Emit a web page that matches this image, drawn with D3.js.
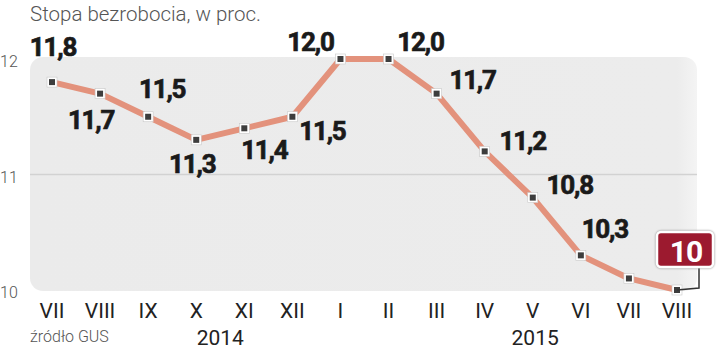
<!DOCTYPE html>
<html>
<head>
	<meta charset="utf-8">
	<title>Stopa bezrobocia</title>
	<script src="https://cdn.jsdelivr.net/npm/d3@7"></script>
</head>
<style type="text/css">
	body { margin: 0; background: #fff; }
	text { font-family: Roboto, "Liberation Sans", sans-serif; }
</style>
<body>
</body>
</html>
<script type="text/javascript">
	var width = 720;
	var height = 351;

	// data
	var months = ["VII", "VIII", "IX", "X", "XI", "XII", "I", "II", "III", "IV", "V", "VI", "VII", "VIII"];
	var rates = [11.8, 11.7, 11.5, 11.3, 11.4, 11.5, 12.0, 12.0, 11.7, 11.2, 10.8, 10.3, 10.1, 10.0];
	var valueLabels = ["11,8", "11,7", "11,5", "11,3", "11,4", "11,5", "12,0", "12,0", "11,7", "11,2", "10,8", "10,3", "", "10"];
	var yTicks = [10, 11, 12];
	var years = ["2014", "2015"];
	var yearAt = [3.5, 10.05]; // index position of the year caption

	// where each value label sits relative to its point [dx, dy]
	var labelOffsets = [[1, -26], [-9, 35], [14, -19], [-4, 33], [20, 31], [30, 23], [-30, -8], [32, -8], [36, -5], [38, -1], [37, -4], [24, -17], null, null];

	var svg = d3.select("body").append("svg").attr("width", width).attr("height", height);

	var x = d3.scaleLinear().domain([0, months.length - 1]).range([52, 677]);
	var y = d3.scaleLinear().domain([10, 12]).range([290, 59]);

	// plot background
	var grad = svg.append("defs").append("linearGradient").attr("id", "bg")
		.attr("x1", "0").attr("x2", "1").attr("y1", "0").attr("y2", "0");
	grad.append("stop").attr("offset", "0").attr("stop-color", "#ebebeb");
	grad.append("stop").attr("offset", "0.97").attr("stop-color", "#ececec");
	grad.append("stop").attr("offset", "1").attr("stop-color", "#f4f4f4");

	svg.append("rect")
		.attr("x", 30).attr("y", y(12) - 2)
		.attr("width", 667).attr("height", y(10) - y(12) + 3)
		.attr("rx", 13)
		.attr("fill", "url(#bg)");

	// grid line at 11
	svg.append("line")
		.attr("x1", 30).attr("x2", 697)
		.attr("y1", y(11)).attr("y2", y(11))
		.attr("stroke", "#d2d2d2").attr("stroke-width", 1.5);

	// y ticks
	svg.selectAll(".ytick").data(yTicks).enter().append("text")
		.attr("class", "ytick")
		.attr("x", 0).attr("y", function(d){ return y(d) + 8; })
		.attr("font-size", 16).attr("font-weight", 300)
		.attr("fill", "#555")
		.text(function(d){ return d; });

	// title
	svg.append("text")
		.attr("x", 30).attr("y", 21)
		.attr("font-size", 20.5).attr("font-weight", 300)
		.attr("fill", "#555")
		.text("Stopa bezrobocia, w proc.");

	// line
	var line = d3.line()
		.x(function(d, i){ return x(i); })
		.y(function(d){ return y(d); });

	svg.append("path")
		.datum(rates)
		.attr("d", line)
		.attr("fill", "none")
		.attr("stroke", "#e3927c")
		.attr("stroke-width", 6)
		.attr("stroke-linejoin", "round");

	// markers
	var mk = svg.selectAll(".mk").data(rates).enter().append("g")
		.attr("class", "mk")
		.attr("transform", function(d, i){ return "translate(" + x(i) + "," + y(d) + ")"; });
	mk.append("rect")
		.attr("x", -5).attr("y", -5).attr("width", 10).attr("height", 10)
		.attr("fill", "#fff").attr("stroke", "#c8c8c8").attr("stroke-width", 0.6);
	mk.append("rect")
		.attr("x", -3).attr("y", -3).attr("width", 6).attr("height", 6)
		.attr("fill", "#3d3d3d");

	// value labels
	svg.selectAll(".vl").data(rates).enter().filter(function(d, i){ return labelOffsets[i]; })
		.append("text")
		.attr("class", "vl")
		.attr("x", function(d, i){ return x(i) + labelOffsets[i][0]; })
		.attr("y", function(d, i){ return y(d) + labelOffsets[i][1]; })
		.attr("text-anchor", "middle")
		.attr("font-size", 26).attr("font-weight", 700)
		.attr("fill", "#1a1a1a")
		.attr("stroke", "#1a1a1a").attr("stroke-width", 0.7)
		.attr("letter-spacing", -1.2)
		.text(function(d, i){ return valueLabels[i]; });

	// highlighted last value
	var last = rates.length - 1;
	var lx = x(last), ly = y(rates[last]);
	svg.append("path")
		.attr("d", "M" + lx + "," + ly + "L" + (lx + 22) + "," + (ly - 2) + "V" + (ly - 24))
		.attr("fill", "none").attr("stroke", "#333").attr("stroke-width", 1.5);
	svg.append("rect")
		.attr("x", lx - 20).attr("y", ly - 58).attr("width", 56).attr("height", 35)
		.attr("rx", 4)
		.attr("fill", "#9c1a2f")
		.attr("stroke", "#fff").attr("stroke-width", 2.5)
		.style("filter", "drop-shadow(0 0 1px #888)");
	svg.append("text")
		.attr("x", lx + 9).attr("y", ly - 28)
		.attr("text-anchor", "middle")
		.attr("font-size", 30).attr("font-weight", 700)
		.attr("letter-spacing", -1)
		.attr("fill", "#fff")
		.text(valueLabels[last]);

	// month labels
	svg.selectAll(".month").data(months).enter().append("text")
		.attr("class", "month")
		.attr("x", function(d, i){ return x(i); })
		.attr("y", 318)
		.attr("text-anchor", "middle")
		.attr("font-size", 21)
		.attr("fill", "#222")
		.text(function(d){ return d; });

	// years
	svg.selectAll(".year").data(years).enter().append("text")
		.attr("class", "year")
		.attr("x", function(d, i){ return x(yearAt[i]); })
		.attr("y", 345)
		.attr("text-anchor", "middle")
		.attr("font-size", 21)
		.attr("fill", "#222")
		.text(function(d){ return d; });

	// source
	svg.append("text")
		.attr("x", 30).attr("y", 342)
		.attr("font-size", 16).attr("font-weight", 300)
		.attr("fill", "#555")
		.text("źródło GUS");
</script>
